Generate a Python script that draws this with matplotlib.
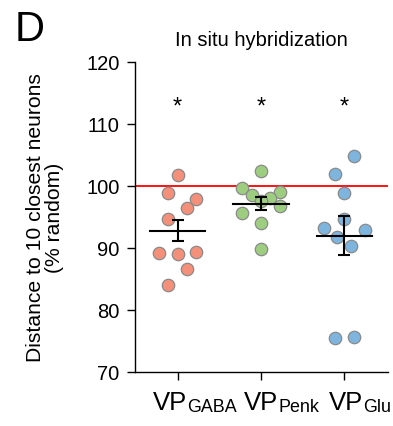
import numpy as np
import matplotlib
matplotlib.use("Agg")
import matplotlib.pyplot as plt
from matplotlib.transforms import IdentityTransform

plt.rcParams['font.family'] = ['Liberation Sans', 'DejaVu Sans']

groups = ["GABA", "Penk", "Glu"]
gaba = [101.8, 98.9, 97.9, 96.4, 94.6, 89.2, 89.1, 89.4, 86.6, 84.1]
penk = [102.4, 99.6, 98.5, 99.0, 98.1, 97.6, 96.8, 95.7, 94.0, 89.8]
glu = [104.9, 102.0, 98.9, 94.7, 93.3, 92.9, 91.8, 90.4, 75.5, 75.6]
sem = [1.75, 1.05, 3.1]
colors = ["#F4907A", "#9DCE80", "#7DB5DF"]

# swarm slots (multiples of the dot spacing)
slots = [
    [0, -1, 2, 1, -1, -2, 0, 2, 1, -1],
    [0, -2, -1, 2, 1, 0, 2, -2, 0, 0],
    [1, -1, 0, 0, -2.2, 2.2, -0.75, 0.7, -1, 1],
]
step = 0.112

fig = plt.figure(figsize=(3.93, 4.27), dpi=100)
ax = fig.add_axes([0.3435, 0.1265, 0.6435, 0.726])

ax.axhline(100, color="#FF0000", lw=1.3, zorder=1)

for i, vals in enumerate([gaba, penk, glu]):
    x0 = i + 1
    xs = x0 + np.array(slots[i]) * step
    ax.scatter(xs, vals, s=80, color=colors[i], edgecolor="#8A8A8A",
               linewidth=0.9, zorder=2)
    m = np.mean(vals)
    ax.plot([x0 - 0.33, x0 + 0.33], [m, m], color="black", lw=1.5, zorder=3)
    ax.errorbar(x0, m, yerr=sem[i], color="black", lw=1.5, capsize=4.5,
                capthick=1.5, zorder=3)
    ax.text(x0, 112.8, "*", ha="center", va="center", fontsize=17)

ax.set_xlim(0.49, 3.52)
ax.set_ylim(70, 120)
ax.set_yticks([70, 80, 90, 100, 110, 120])
ax.set_xticks([1, 2, 3])
ax.set_xticklabels([])
ax.tick_params(axis="y", labelsize=14.5, length=6, width=1, pad=5)
ax.tick_params(axis="x", length=6, width=1)
for s in ["top", "right"]:
    ax.spines[s].set_visible(False)
for s in ["left", "bottom"]:
    ax.spines[s].set_linewidth(1)

ax.set_ylabel("Distance to 10 closest neurons\n(% random)", fontsize=15.2,
              labelpad=16, linespacing=1.0)
ax.set_title("In situ hybridization", fontsize=14.5, pad=12)
fig.text(0.038, 0.905, "D", fontsize=30)

# x labels: "VP" + larger-than-mathtext subscript
renderer = fig.canvas.get_renderer()
H = fig.bbox.height
shift = [-25, -17, -16]  # px from tick to start of "VP"
for i, g in enumerate(groups):
    xt = ax.transData.transform((i + 1, 70))[0]
    base_y = H - 410
    t = fig.text(xt + shift[i], base_y, "VP", fontsize=18.5,
                 transform=IdentityTransform(), ha="left", va="baseline")
    bb = t.get_window_extent(renderer)
    fig.text(bb.x1 + 0.5, base_y - 2.5, g, fontsize=12.9,
             transform=IdentityTransform(), ha="left", va="baseline")

fig.savefig("out.png", dpi=100)
